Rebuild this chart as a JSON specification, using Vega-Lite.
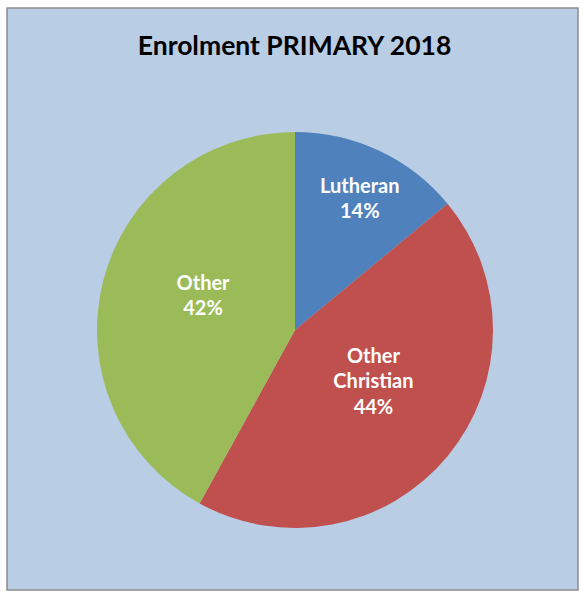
{
  "$schema": "https://vega.github.io/schema/vega-lite/v6.json",
  "autosize": {"type": "none"},
  "padding": {"left": 7, "top": 8, "right": 4, "bottom": 4},
  "width": 571,
  "height": 582,
  "background": "white",
  "view": {"fill": "#b9cde5", "stroke": "#8c8c8c", "strokeWidth": 1.5},
  "title": {
    "text": "Enrolment PRIMARY 2018",
    "orient": "top",
    "anchor": "middle",
    "frame": "group",
    "offset": -65,
    "baseline": "middle",
    "font": "Lato",
    "fontSize": 26.5,
    "fontWeight": "bold",
    "color": "#000000",
    "dx": 2
  },
  "data": {
    "values": [
      {"religion": "Lutheran", "label": "Lutheran\n14%", "pct": 14, "order": 1},
      {"religion": "Other Christian", "label": "Other\nChristian\n44%", "pct": 44, "order": 2},
      {"religion": "Other", "label": "Other\n42%", "pct": 42, "order": 3}
    ]
  },
  "encoding": {
    "theta": {"field": "pct", "type": "quantitative", "stack": true},
    "order": {"field": "order", "type": "quantitative"}
  },
  "layer": [
    {
      "mark": {"type": "arc", "outerRadius": 198, "x": {"expr": "width/2+2.5"}, "y": {"expr": "height/2+31"}},
      "encoding": {
        "color": {
          "field": "religion",
          "type": "nominal",
          "scale": {"domain": ["Lutheran", "Other Christian", "Other"], "range": ["#4f81bd", "#c0504d", "#9bbb59"]},
          "legend": null
        }
      }
    },
    {
      "mark": {"type": "text", "radius": 145, "dx": 3, "dy": -12, "x": {"expr": "width/2+2.5"}, "y": {"expr": "height/2+31"}, "lineBreak": "\n", "lineHeight": 25.5, "font": "Lato", "fontSize": 20, "fontWeight": "bold", "color": "white", "align": "center", "baseline": "middle"},
      "encoding": {"text": {"condition": {"test": "datum.religion == 'Lutheran'", "field": "label"}, "value": ""}}
    },
    {
      "mark": {"type": "text", "radius": 94, "dx": 6, "dy": -33, "x": {"expr": "width/2+2.5"}, "y": {"expr": "height/2+31"}, "lineBreak": "\n", "lineHeight": 25.5, "font": "Lato", "fontSize": 20, "fontWeight": "bold", "color": "white", "align": "center", "baseline": "middle"},
      "encoding": {"text": {"condition": {"test": "datum.religion == 'Other Christian'", "field": "label"}, "value": ""}}
    },
    {
      "mark": {"type": "text", "radius": 97, "dx": 2, "dy": -22, "x": {"expr": "width/2+2.5"}, "y": {"expr": "height/2+31"}, "lineBreak": "\n", "lineHeight": 25.5, "font": "Lato", "fontSize": 20, "fontWeight": "bold", "color": "white", "align": "center", "baseline": "middle"},
      "encoding": {"text": {"condition": {"test": "datum.religion == 'Other'", "field": "label"}, "value": ""}}
    }
  ]
}
